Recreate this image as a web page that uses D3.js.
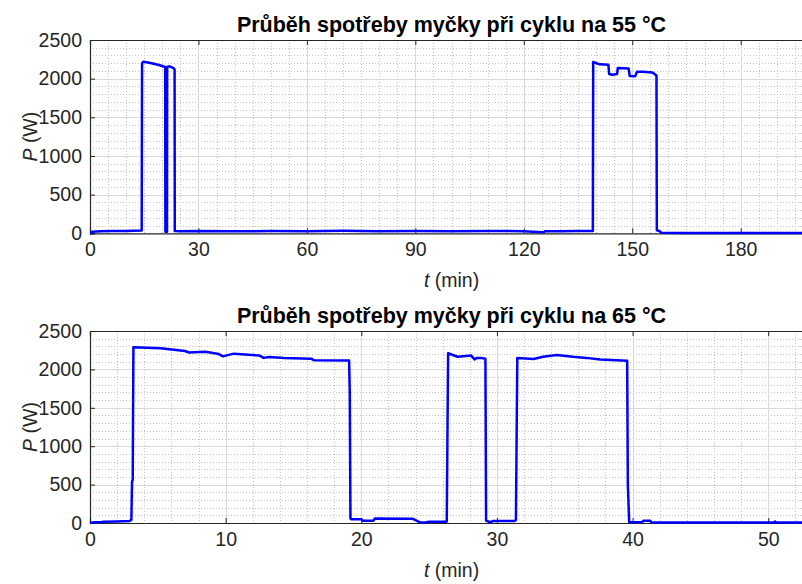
<!DOCTYPE html>
<html>
<head>
<meta charset="utf-8">
<script src="https://cdn.jsdelivr.net/npm/d3@7"></script>
<style>
  body { margin: 0; background: #fff; }
  svg { display: block; font-family: "Liberation Sans", Arial, sans-serif; }
</style>
</head>
<body>
<div id="chart"></div>
<script>
// cycle 55 °C: time (min), power (W)
var t55 = [0, 0.4, 0.6, 3, 6, 10, 14.3, 14.4, 14.8, 16, 17, 18, 19.5, 20.8, 20.85, 21.3, 21.35, 22, 23, 23.4, 23.45,
  25, 30, 40, 50, 60, 70, 80, 90, 100, 110, 120, 125, 125.5, 126, 130, 135, 139.1, 139.2,
  141, 143.4, 143.6, 144.5, 145.8, 146, 149, 149.3, 150.8, 151.3, 153, 155.6, 156.7, 156.8, 157.5, 158, 165, 180, 200];
var p55 = [0, 5, 20, 25, 30, 30, 35, 2200, 2220, 2210, 2200, 2190, 2170, 2150, 20, 20, 2150, 2160, 2140, 2120, 30,
  25, 30, 25, 30, 28, 32, 28, 30, 25, 30, 28, 15, 15, 28, 25, 30, 30, 2215,
  2185, 2180, 2060, 2050, 2060, 2137, 2130, 2035, 2030, 2090, 2090, 2080, 2040, 40, 30, 8, 5, 5, 5];

// cycle 65 °C: time (min), power (W)
var t65 = [0, 0.3, 0.8, 1, 2, 2.9, 3.05, 3.1, 3.15, 3.2, 5.2, 7, 7.3, 8.5, 9.5, 9.8, 10.6, 12.5, 12.8, 13.2, 14.3, 16.3, 16.5, 19.1, 19.15, 19.2,
  19.25, 20.0, 20.1, 20.9, 21.0, 23.8, 24.3, 24.6, 25, 26.2, 26.3,
  26.4, 27.1, 28.1, 28.35, 28.5, 28.8, 29.15, 29.2, 29.5, 29.7, 31.3, 31.4,
  31.5, 32.7, 33.4, 34.4, 35.6, 36.6, 37.6, 39.6, 39.65, 39.75, 40.7, 40.8, 41.3, 41.4, 45, 50.4, 50.5, 50.6, 53.3];
var p65 = [0, 10, 10, 15, 20, 25, 40, 540, 560, 2288, 2275, 2240, 2220, 2230, 2200, 2170, 2205, 2180, 2150, 2160, 2150, 2140, 2120, 2115, 1700, 60,
  50, 50, 30, 30, 60, 55, 10, 5, 15, 15, 20,
  2210, 2165, 2180, 2130, 2150, 2150, 2140, 30, 10, 25, 25, 40,
  2150, 2135, 2165, 2188, 2165, 2150, 2130, 2113, 500, 10, 10, 30, 30, 5, 5, 5, 20, 5, 5];

var xTicks55 = [0, 30, 60, 90, 120, 150, 180];
var xTicks65 = [0, 10, 20, 30, 40, 50];
var yTicks = [0, 500, 1000, 1500, 2000, 2500];
var titles = ["Průběh spotřeby myčky při cyklu na 55 °C", "Průběh spotřeby myčky při cyklu na 65 °C"];

var W = 802, H = 584;
var svg = d3.select("#chart").append("svg")
  .attr("width", W).attr("height", H);

var panels = [
  { t: t55, p: p55, xmax: 200, xTicks: xTicks55, xMinor: 5, top: 40, bottom: 233.3, title: titles[0] },
  { t: t65, p: p65, xmax: 53.3, xTicks: xTicks65, xMinor: 2, top: 331, bottom: 523, title: titles[1] }
];

var left = 90, right = 813;
var axisColor = "#262626";

panels.forEach(function (c, i) {
  var x = d3.scaleLinear().domain([0, c.xmax]).range([left, right]);
  var y = d3.scaleLinear().domain([0, 2500]).range([c.bottom, c.top]);
  var g = svg.append("g");

  // minor grid
  var xm = d3.range(0, c.xmax + 1e-9, c.xMinor).filter(function (v) { return c.xTicks.indexOf(v) < 0; });
  var ym = d3.range(0, 2501, 100).filter(function (v) { return v % 500 !== 0; });
  g.selectAll(".xm").data(xm).enter().append("line")
    .attr("x1", function (d) { return Math.round(x(d)) + 0.5; })
    .attr("x2", function (d) { return Math.round(x(d)) + 0.5; })
    .attr("y1", c.top).attr("y2", c.bottom)
    .attr("stroke", "#c4c4c4").attr("stroke-dasharray", "1,2");
  g.selectAll(".ym").data(ym).enter().append("line")
    .attr("x1", left).attr("x2", right)
    .attr("y1", function (d) { return Math.round(y(d)) + 0.5; })
    .attr("y2", function (d) { return Math.round(y(d)) + 0.5; })
    .attr("stroke", "#c4c4c4").attr("stroke-dasharray", "1,2");

  // major grid
  g.selectAll(".xg").data(c.xTicks.slice(1)).enter().append("line")
    .attr("x1", function (d) { return Math.round(x(d)) + 0.5; })
    .attr("x2", function (d) { return Math.round(x(d)) + 0.5; })
    .attr("y1", c.top).attr("y2", c.bottom)
    .attr("stroke", "#dadada");
  g.selectAll(".yg").data(yTicks.slice(1, -1)).enter().append("line")
    .attr("x1", left).attr("x2", right)
    .attr("y1", function (d) { return Math.round(y(d)) + 0.5; })
    .attr("y2", function (d) { return Math.round(y(d)) + 0.5; })
    .attr("stroke", "#dadada");

  // axes
  var xa = g.append("g").attr("transform", "translate(0," + c.bottom + ")")
    .call(d3.axisBottom(x).tickValues(c.xTicks).tickSize(-5).tickPadding(9).tickFormat(d3.format("d")));
  var xt = g.append("g").attr("transform", "translate(0," + c.top + ")")
    .call(d3.axisTop(x).tickValues(c.xTicks).tickSize(-5).tickFormat(""));
  var ya = g.append("g").attr("transform", "translate(" + left + ",0)")
    .call(d3.axisLeft(y).tickValues(yTicks).tickSize(-5).tickPadding(8).tickFormat(d3.format("d")));
  [xa, xt, ya].forEach(function (a) {
    a.select(".domain").attr("stroke", axisColor).attr("stroke-width", 1.2);
    a.selectAll(".tick line").attr("stroke", axisColor);
    a.selectAll("text").attr("fill", axisColor).style("font-size", "19.5px")
      .style("font-family", "'Liberation Sans', Arial, sans-serif");
  });
  xa.selectAll(".tick text").attr("dy", "0.71em");

  // clip + data line
  var cid = "clip" + i;
  svg.append("clipPath").attr("id", cid).append("rect")
    .attr("x", left).attr("y", c.top - 2).attr("width", right - left).attr("height", c.bottom - c.top + 4);
  var data = c.t.map(function (v, k) { return [v, c.p[k]]; });
  g.append("path").datum(data)
    .attr("clip-path", "url(#" + cid + ")")
    .attr("fill", "none").attr("stroke", "#0000ff").attr("stroke-width", 2.5)
    .attr("stroke-linejoin", "round")
    .attr("d", d3.line().x(function (d) { return x(d[0]); }).y(function (d) { return y(d[1]); }));

  // title
  var cx = (left + right) / 2;
  g.append("text").attr("x", cx).attr("y", c.top - 8.5)
    .attr("text-anchor", "middle").attr("fill", "#000")
    .style("font-weight", "bold").style("font-size", "21.5px")
    .text(c.title);

  // x label
  var xl = g.append("text").attr("x", cx).attr("y", c.bottom + 54)
    .attr("text-anchor", "middle").attr("fill", axisColor).style("font-size", "19.5px");
  xl.append("tspan").style("font-style", "italic").text("t");
  xl.append("tspan").text(" (min)");

  // y label
  var yl = g.append("text")
    .attr("transform", "translate(37," + ((c.top + c.bottom) / 2) + ") rotate(-90)")
    .attr("text-anchor", "middle").attr("fill", axisColor).style("font-size", "19.5px");
  yl.append("tspan").style("font-style", "italic").text("P");
  yl.append("tspan").text(" (W)");
});
</script>
</body>
</html>
